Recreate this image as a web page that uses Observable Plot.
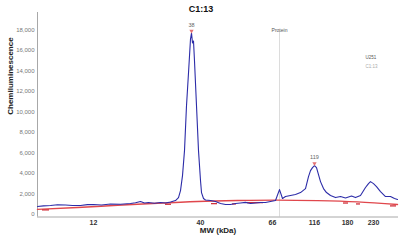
<!DOCTYPE html>
<html>
<head>
<meta charset="utf-8">
<script src="https://cdn.jsdelivr.net/npm/d3@7"></script>
<script src="https://cdn.jsdelivr.net/npm/@observablehq/plot@0.6"></script>
<style>
  html, body { margin: 0; padding: 0; background: white; }
</style>
</head>
<body>
<div id="chart"></div>
<script>
// Capillary position (arbitrary units) and chemiluminescence signal
const signalPos = [0, 6, 13, 20, 28, 35, 43, 50, 56, 64, 73, 83, 93, 98, 103, 107, 111, 117, 123, 128, 133, 138, 141, 143, 145, 147, 149, 151, 152, 153, 154, 155, 156, 157, 159, 161, 163, 164, 166, 168, 173, 178, 183, 188, 193, 198, 203, 208, 213, 218, 223, 228, 233, 238, 242, 245, 248, 253, 258, 263, 268, 271, 273, 275, 277, 279, 281, 283, 286, 289, 293, 298, 303, 308, 314, 318, 323, 328, 331, 333, 336, 339, 343, 348, 353, 357, 360];
const signalVal = [780, 840, 875, 950, 925, 880, 875, 960, 975, 930, 1020, 1000, 1070, 1150, 1265, 1120, 1170, 1100, 1170, 1120, 1215, 1360, 1650, 2335, 3795, 6230, 10600, 13800, 15470, 17120, 17710, 16740, 16930, 14980, 10600, 6230, 3310, 2140, 1560, 1410, 1360, 1265, 1070, 975, 975, 1070, 1120, 1180, 1070, 1120, 1170, 1170, 1265, 1360, 2430, 1560, 1750, 1850, 1945, 2140, 2530, 3700, 4280, 4570, 4770, 4570, 3890, 3210, 2530, 2140, 1850, 1650, 1750, 1605, 1800, 1650, 1850, 2630, 3015, 3210, 3015, 2725, 2240, 1750, 1750, 1560, 1460];

// Fitted baseline
const basePos = [0, 40, 80, 120, 160, 200, 240, 280, 320, 360];
const baseVal = [500, 680, 900, 1100, 1270, 1360, 1400, 1350, 1230, 980];

// Baseline anchor segments
const segStart = [5, 128, 174, 195, 210, 306, 319, 353];
const segEnd = [12, 134, 180, 199, 226, 311, 323, 359];
const segVal = [450, 1000, 1060, 1030, 1160, 1120, 1030, 840];

// Molecular weight ladder
const ladderMW = ["12", "40", "66", "116", "180", "230"];
const ladderPos = [56, 163, 235, 277, 310, 336];

// Peaks
const peakLabel = ["38", "119"];
const peakPos = [154, 277];
const peakVal = [17710, 4770];

const proteinPos = 242;
const yTicks = [0, 2000, 4000, 6000, 8000, 10000, 12000, 14000, 16000, 18000];

const signal = signalPos.map((p, i) => ({pos: p, val: signalVal[i]}));
const baseline = basePos.map((p, i) => ({pos: p, val: baseVal[i]}));
const segs = segStart.map((s, i) => ({x1: s, x2: segEnd[i], val: segVal[i]}));
const peaks = peakPos.map((p, i) => ({pos: p, val: peakVal[i], label: peakLabel[i]}));
const mwByPos = new Map(ladderPos.map((p, i) => [p, ladderMW[i]]));

const chart = Plot.plot({
  width: 400,
  height: 240,
  marginLeft: 37,
  marginRight: 2,
  marginTop: 12,
  marginBottom: 23.5,
  style: {fontFamily: "'Liberation Sans', Arial, sans-serif", background: "white", overflow: "visible"},
  x: {domain: [0, 361], axis: null},
  y: {domain: [-244, 19707], axis: null},
  marks: [
    Plot.ruleX([proteinPos], {stroke: "#dcdcdc", strokeWidth: 1, insetTop: 19}),
    Plot.ruleX([0], {stroke: "#a8a8a8", strokeWidth: 1}),
    Plot.ruleY([-244], {stroke: "#a8a8a8", strokeWidth: 1}),
    Plot.axisY({ticks: yTicks, tickSize: 0, tickPadding: 3, tickFormat: d3.format(","), fontSize: 6, color: "#777", label: null}),
    Plot.axisX({ticks: ladderPos, tickSize: 0, tickPadding: 3, tickFormat: d => mwByPos.get(d), fontSize: 7, fontWeight: "bold", color: "#333", label: null}),
    Plot.line(baseline, {x: "pos", y: "val", stroke: "#e0474c", strokeWidth: 1.4, curve: "natural"}),
    Plot.ruleY(segs, {x1: "x1", x2: "x2", y: "val", stroke: "#d0303a", strokeWidth: 1.3}),
    Plot.line(signal, {x: "pos", y: "val", stroke: "#2c2ca8", strokeWidth: 1.1}),
    Plot.dot(peaks, {x: "pos", y: "val", symbol: "triangle", rotate: 180, r: 1.6, fill: "#e57373", dy: -2}),
    Plot.text(peaks, {x: "pos", y: "val", text: "label", dy: -8, fontSize: 5.5, fill: "#666"}),
    Plot.text([proteinPos], {x: d => d, text: ["Protein"], frameAnchor: "top", dy: 16, fontSize: 5, fill: "#555"}),
    Plot.text(["C1:13"], {frameAnchor: "top", dx: -17, dy: -6.5, fontSize: 9, fontWeight: "bold", fill: "#111"}),
    Plot.text(["Chemiluminescence"], {frameAnchor: "left", rotate: -90, dx: -27, fontSize: 8, fontWeight: "bold", fill: "#222"}),
    Plot.text(["MW (kDa)"], {frameAnchor: "bottom", dy: 16, fontSize: 8, fontWeight: "bold", fill: "#222"}),
    Plot.text(["U251"], {frameAnchor: "top-right", dx: -33, dy: 43, textAnchor: "start", fontSize: 4.5, fill: "#555"}),
    Plot.text(["C1:13"], {frameAnchor: "top-right", dx: -33, dy: 52, textAnchor: "start", fontSize: 4.5, fill: "#aaa"})
  ]
});
document.getElementById("chart").appendChild(chart);
</script>
</body>
</html>
